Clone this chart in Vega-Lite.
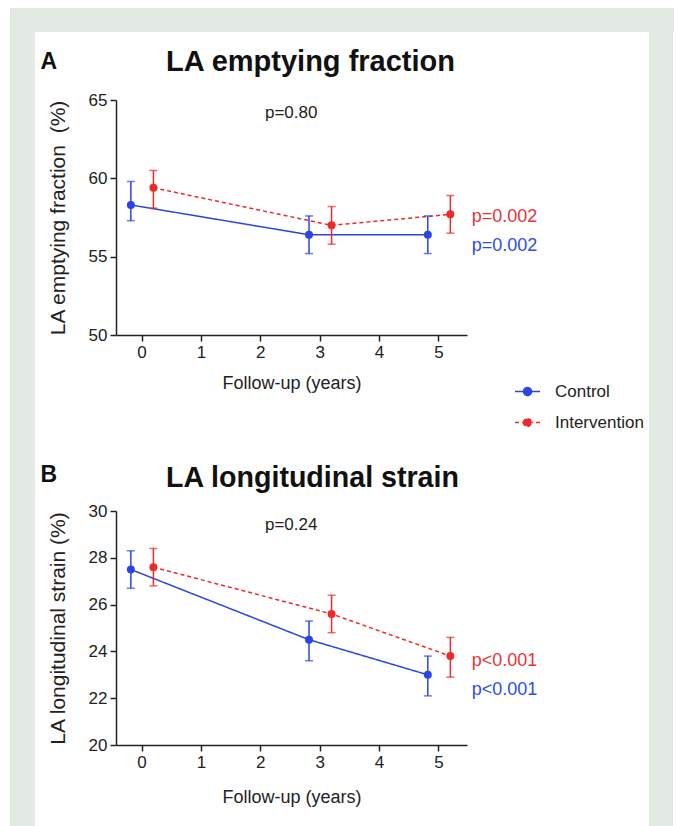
{
  "$schema": "https://vega.github.io/schema/vega-lite/v6.json",
  "background": "white",
  "padding": {"left": 10, "top": 8, "right": 0, "bottom": 0},
  "datasets": {
    "ef": [
      {"group": "Control", "year": -0.18, "mean": 58.3, "lo": 57.3, "hi": 59.8},
      {"group": "Control", "year": 2.82, "mean": 56.4, "lo": 55.2, "hi": 57.6},
      {"group": "Control", "year": 4.82, "mean": 56.4, "lo": 55.2, "hi": 57.6},
      {"group": "Intervention", "year": 0.2, "mean": 59.4, "lo": 58.1, "hi": 60.5},
      {"group": "Intervention", "year": 3.2, "mean": 57.0, "lo": 55.8, "hi": 58.2},
      {"group": "Intervention", "year": 5.2, "mean": 57.7, "lo": 56.5, "hi": 58.9}
    ],
    "ls": [
      {"group": "Control", "year": -0.18, "mean": 27.5, "lo": 26.7, "hi": 28.3},
      {"group": "Control", "year": 2.82, "mean": 24.5, "lo": 23.6, "hi": 25.3},
      {"group": "Control", "year": 4.82, "mean": 23.0, "lo": 22.1, "hi": 23.8},
      {"group": "Intervention", "year": 0.2, "mean": 27.6, "lo": 26.8, "hi": 28.4},
      {"group": "Intervention", "year": 3.2, "mean": 25.6, "lo": 24.8, "hi": 26.4},
      {"group": "Intervention", "year": 5.2, "mean": 23.8, "lo": 22.9, "hi": 24.6}
    ]
  },
  "config": {
    "font": "Liberation Sans",
    "view": {"stroke": null},
    "axis": {
      "grid": false,
      "domainColor": "#222222",
      "domainWidth": 1.5,
      "tickColor": "#222222",
      "tickWidth": 1.5,
      "tickSize": 6,
      "labelFont": "Liberation Sans",
      "labelFontSize": 17,
      "labelColor": "#222222",
      "labelPadding": 3,
      "titleFont": "Liberation Sans",
      "titleFontWeight": "normal",
      "titleColor": "#222222"
    },
    "title": {"font": "Liberation Sans", "fontWeight": "bold", "fontSize": 29, "color": "#111111", "anchor": "middle", "frame": "group"}
  },
  "spacing": 0,
  "vconcat": [
    {"width": 664, "height": 24, "data": {"values": []}, "mark": "rect", "encoding": {}, "view": {"fill": "#e2eae3", "stroke": null}},
    {
      "spacing": 5,
      "hconcat": [
        {"width": 25, "height": 794, "data": {"values": []}, "mark": "rect", "encoding": {}, "view": {"fill": "#e2eae3", "stroke": null}},
        {
          "spacing": 15,
          "vconcat": [
            {"width": 1, "height": 1, "data": {"values": []}, "mark": "rect", "encoding": {}, "view": {"stroke": null}},
            {
              "spacing": 32,
              "resolve": {"scale": {"color": "independent", "strokeDash": "independent"}},
              "vconcat": [
                {
                  "width": 351,
                  "height": 235,
                  "title": {"text": "LA emptying fraction", "dx": 19, "dy": 40, "offset": 14},
                  "data": {"name": "ef"},
                  "encoding": {
                    "x": {"field": "year", "type": "quantitative", "scale": {"domain": [-0.43, 5.48], "nice": false, "zero": false},
                      "axis": {"values": [0, 1, 2, 3, 4, 5], "title": "Follow-up (years)", "titleFontSize": 18, "titlePadding": 14}},
                    "y": {"field": "mean", "type": "quantitative", "scale": {"domain": [50, 65], "nice": false, "zero": false},
                      "axis": {"values": [50, 55, 60, 65], "title": "LA emptying fraction\u00a0\u00a0(%)", "titleFontSize": 21, "titlePadding": 20}}
                  },
                  "layer": [
                    {
                      "mark": {"type": "line", "strokeWidth": 1.5},
                      "encoding": {
                        "color": {"field": "group", "type": "nominal",
                          "scale": {"domain": ["Control", "Intervention"], "range": ["#2b44e6", "#ec2a2a"]},
                          "legend": {"orient": "none", "legendX": 398, "legendY": 278, "title": null, "padding": 0,
                            "symbolType": "M-1,0H1M-0.32,0A0.32,0.32,0,1,1,0.32,0A0.32,0.32,0,1,1,-0.32,0Z",
                            "symbolSize": 625, "symbolStrokeWidth": 1.5, "labelFontSize": 17, "labelFont": "Liberation Sans",
                            "labelColor": "#222222", "labelOffset": 14, "rowPadding": 9,
                            "encode": {"symbols": {"update": {"fill": {"signal": "datum.value === 'Control' ? '#2b44e6' : '#ec2a2a'"}, "fillOpacity": {"value": 1}}}}}},
                        "strokeDash": {"field": "group", "type": "nominal",
                          "scale": {"domain": ["Control", "Intervention"], "range": [[1, 0], [4, 3]]},
                          "legend": {"orient": "none", "legendX": 398, "legendY": 278, "title": null, "padding": 0,
                            "symbolType": "M-1,0H1M-0.32,0A0.32,0.32,0,1,1,0.32,0A0.32,0.32,0,1,1,-0.32,0Z",
                            "symbolSize": 625, "symbolStrokeWidth": 1.5, "labelFontSize": 17, "labelFont": "Liberation Sans",
                            "labelColor": "#222222", "labelOffset": 14, "rowPadding": 9}}
                      }
                    },
                    {
                      "mark": {"type": "errorbar", "ticks": true, "size": 8, "thickness": 1.5},
                      "encoding": {
                        "y": {"field": "lo", "type": "quantitative"},
                        "y2": {"field": "hi"},
                        "color": {"field": "group", "type": "nominal", "scale": {"domain": ["Control", "Intervention"], "range": ["#2b44e6", "#ec2a2a"]}, "legend": null}
                      }
                    },
                    {
                      "mark": {"type": "point", "filled": true, "size": 64, "opacity": 1},
                      "encoding": {
                        "color": {"field": "group", "type": "nominal", "scale": {"domain": ["Control", "Intervention"], "range": ["#2b44e6", "#ec2a2a"]}, "legend": null}
                      }
                    },
                    {
                      "transform": [{"filter": {"field": "year", "equal": -0.18}}],
                      "mark": {"type": "text", "fontSize": 23, "fontWeight": "bold", "align": "left", "baseline": "alphabetic", "color": "#111111"},
                      "encoding": {"x": {"datum": -1.7}, "y": {"datum": 66.95}, "text": {"value": "A"}}
                    },
                    {
                      "transform": [{"filter": {"field": "year", "equal": -0.18}}],
                      "mark": {"type": "text", "fontSize": 17, "align": "center", "baseline": "middle", "color": "#222222"},
                      "encoding": {"x": {"datum": 2.52}, "y": {"datum": 64.17}, "text": {"value": "p=0.80"}}
                    },
                    {
                      "transform": [{"filter": {"field": "year", "equal": -0.18}}],
                      "mark": {"type": "text", "fontSize": 18, "align": "left", "baseline": "middle", "color": "#e8333a"},
                      "encoding": {"x": {"datum": 5.56}, "y": {"datum": 57.53}, "text": {"value": "p=0.002"}}
                    },
                    {
                      "transform": [{"filter": {"field": "year", "equal": -0.18}}],
                      "mark": {"type": "text", "fontSize": 18, "align": "left", "baseline": "middle", "color": "#2e4de6"},
                      "encoding": {"x": {"datum": 5.56}, "y": {"datum": 55.7}, "text": {"value": "p=0.002"}}
                    }
                  ]
                },
                {
                  "width": 351,
                  "height": 234,
                  "title": {"text": "LA longitudinal strain", "fontSize": 28.6, "dx": 21, "dy": 43, "offset": 14},
                  "data": {"name": "ls"},
                  "encoding": {
                    "x": {"field": "year", "type": "quantitative", "scale": {"domain": [-0.43, 5.48], "nice": false, "zero": false},
                      "axis": {"values": [0, 1, 2, 3, 4, 5], "title": "Follow-up (years)", "titleFontSize": 18, "titlePadding": 18}},
                    "y": {"field": "mean", "type": "quantitative", "scale": {"domain": [20, 30], "nice": false, "zero": false},
                      "axis": {"values": [20, 22, 24, 26, 28, 30], "title": "LA longitudinal strain (%)", "titleFontSize": 21, "titlePadding": 20}}
                  },
                  "layer": [
                    {
                      "mark": {"type": "line", "strokeWidth": 1.5},
                      "encoding": {
                        "color": {"field": "group", "type": "nominal", "scale": {"domain": ["Control", "Intervention"], "range": ["#2b44e6", "#ec2a2a"]}, "legend": null},
                        "strokeDash": {"field": "group", "type": "nominal", "scale": {"domain": ["Control", "Intervention"], "range": [[1, 0], [4, 3]]}, "legend": null}
                      }
                    },
                    {
                      "mark": {"type": "errorbar", "ticks": true, "size": 8, "thickness": 1.5},
                      "encoding": {
                        "y": {"field": "lo", "type": "quantitative"},
                        "y2": {"field": "hi"},
                        "color": {"field": "group", "type": "nominal", "scale": {"domain": ["Control", "Intervention"], "range": ["#2b44e6", "#ec2a2a"]}, "legend": null}
                      }
                    },
                    {
                      "mark": {"type": "point", "filled": true, "size": 64, "opacity": 1},
                      "encoding": {
                        "color": {"field": "group", "type": "nominal", "scale": {"domain": ["Control", "Intervention"], "range": ["#2b44e6", "#ec2a2a"]}, "legend": null}
                      }
                    },
                    {
                      "transform": [{"filter": {"field": "year", "equal": -0.18}}],
                      "mark": {"type": "text", "fontSize": 23, "fontWeight": "bold", "align": "left", "baseline": "alphabetic", "color": "#111111"},
                      "encoding": {"x": {"datum": -1.7}, "y": {"datum": 31.25}, "text": {"value": "B"}}
                    },
                    {
                      "transform": [{"filter": {"field": "year", "equal": -0.18}}],
                      "mark": {"type": "text", "fontSize": 17, "align": "center", "baseline": "middle", "color": "#222222"},
                      "encoding": {"x": {"datum": 2.52}, "y": {"datum": 29.4}, "text": {"value": "p=0.24"}}
                    },
                    {
                      "transform": [{"filter": {"field": "year", "equal": -0.18}}],
                      "mark": {"type": "text", "fontSize": 18, "align": "left", "baseline": "middle", "color": "#e8333a"},
                      "encoding": {"x": {"datum": 5.56}, "y": {"datum": 23.58}, "text": {"value": "p<0.001"}}
                    },
                    {
                      "transform": [{"filter": {"field": "year", "equal": -0.18}}],
                      "mark": {"type": "text", "fontSize": 18, "align": "left", "baseline": "middle", "color": "#2e4de6"},
                      "encoding": {"x": {"datum": 5.56}, "y": {"datum": 22.35}, "text": {"value": "p<0.001"}}
                    }
                  ]
                }
              ]
            }
          ]
        },
        {"width": 24, "height": 794, "data": {"values": []}, "mark": "rect", "encoding": {}, "view": {"fill": "#e2eae3", "stroke": null}}
      ]
    }
  ]
}
